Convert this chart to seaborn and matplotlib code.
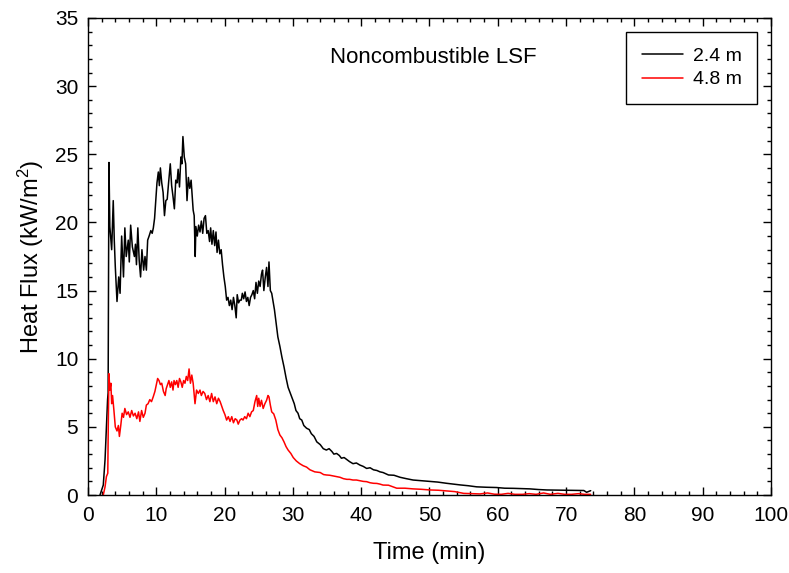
import numpy as np
import pandas as pd
import seaborn as sns
import matplotlib.pyplot as plt
from matplotlib.ticker import MultipleLocator

# heat flux at 2.4 m (black)
t_24 = [1.76, 2.24, 2.5, 2.7, 2.87, 2.95, 3.07, 3.2, 3.47, 3.7, 3.85, 4.0, 4.25, 4.5, 4.7,
        4.93, 5.2, 5.4, 5.6, 5.9, 6.05, 6.25, 6.5, 6.8, 6.95, 7.1, 7.3, 7.5, 7.7, 7.9,
        8.15, 8.35, 8.55, 8.74, 8.95, 9.2, 9.4, 9.57, 9.75, 9.9, 10.1, 10.3, 10.45, 10.6, 10.8,
        11.0, 11.2, 11.4, 11.6, 11.8, 12.05, 12.25, 12.45, 12.65, 12.85, 13.03, 13.2, 13.4, 13.6, 13.75,
        13.9, 14.1, 14.3, 14.5, 14.7, 14.9, 15.1, 15.4, 15.55, 15.7, 15.8, 16.0, 16.2, 16.4, 16.6,
        16.8, 17.0, 17.2, 17.4, 17.6, 17.8, 17.96, 18.15, 18.35, 18.55, 18.74, 18.9, 19.1, 19.3, 19.5,
        19.7, 19.9, 20.1, 20.3, 20.5, 20.7, 20.9, 21.1, 21.3, 21.5, 21.7, 21.85, 22.05, 22.25, 22.45,
        22.6, 22.8, 23.0, 23.2, 23.4, 23.6, 23.8, 24.0, 24.2, 24.4, 24.6, 24.8, 25.0, 25.2, 25.4,
        25.56, 25.75, 25.96, 26.15, 26.35, 26.5, 26.7, 26.9, 27.1, 27.3, 27.5, 27.8, 28.1, 28.4, 28.7,
        29.0, 29.3, 29.6, 29.9, 30.2, 30.45, 30.75, 31.0, 31.3, 31.6, 32.0, 32.4, 32.7, 33.1, 33.5,
        34.0, 34.45, 34.9, 35.3, 35.7, 36.0, 36.4, 36.8, 37.1, 37.5, 37.9, 38.3, 38.8, 39.3, 39.8,
        40.3, 40.8, 41.3, 41.8, 42.3, 42.75, 43.2, 44.0, 44.8, 45.7, 46.6, 47.6, 48.8, 50.0, 51.2,
        52.5, 53.5, 54.5, 55.7, 56.9, 58.3, 59.8, 61.0, 62.3, 63.5, 64.7, 66.0, 67.2, 68.6, 70.1,
        71.5, 72.6, 73.0, 73.6]
q_24 = [0.0, 0.73, 2.6, 5.0, 7.0, 7.5, 24.4, 19.7, 18.0, 21.6, 18.7, 16.75, 14.2, 16.0, 14.8,
        19.0, 16.0, 19.6, 17.5, 18.7, 17.1, 19.8, 18.2, 17.5, 18.4, 16.9, 19.6, 17.2, 16.0, 18.0,
        16.5, 17.5, 16.5, 18.7, 19.0, 19.4, 19.2, 19.6, 20.3, 21.4, 22.9, 23.7, 22.7, 24.0, 22.9,
        22.2, 20.5, 21.6, 21.7, 22.9, 24.3, 22.7, 21.9, 21.0, 23.1, 22.9, 23.9, 22.6, 24.8, 24.3,
        26.3, 24.8, 24.3, 21.6, 23.3, 22.5, 23.1, 20.9, 20.5, 17.5, 19.7, 19.0, 19.8, 19.3, 20.1,
        19.2, 20.3, 20.5, 19.2, 19.4, 18.6, 19.6, 18.4, 19.4, 18.3, 19.3, 17.8, 18.7, 17.7, 18.0,
        16.9, 16.0, 15.3, 14.3, 14.5, 13.9, 14.3, 13.6, 14.5, 13.9, 13.0, 14.7, 14.1, 14.3, 14.3,
        14.8, 14.4, 14.9, 14.2, 14.5, 13.9, 14.5, 14.7, 15.0, 14.4, 15.6, 14.8, 15.7, 15.3, 16.2,
        16.5, 15.0, 16.0, 16.7, 15.3, 17.1, 15.0, 14.8, 14.2, 13.6, 12.8, 11.6, 10.9, 10.1, 9.4,
        8.6, 7.9, 7.5, 7.1, 6.7, 6.2, 6.0, 5.6, 5.5, 5.1, 4.9, 4.8, 4.5, 4.3, 3.9,
        3.7, 3.4, 3.3, 3.4, 3.2, 3.0, 3.05, 2.9, 2.7, 2.75, 2.6, 2.45, 2.3, 2.35, 2.2,
        2.1, 1.95, 2.0, 1.85, 1.8, 1.7, 1.65, 1.47, 1.45, 1.3, 1.2, 1.1, 1.05, 1.0, 0.95,
        0.86, 0.8, 0.74, 0.68, 0.6, 0.57, 0.55, 0.5, 0.49, 0.47, 0.45, 0.4, 0.37, 0.36, 0.35,
        0.34, 0.33, 0.2, 0.32]

# heat flux at 4.8 m (red)
t_48 = [2.24, 2.5, 2.7, 2.9, 2.97, 3.07, 3.2, 3.35, 3.47, 3.6, 3.8, 4.0, 4.25, 4.45, 4.6,
        4.8, 5.0, 5.2, 5.4, 5.65, 5.9, 6.15, 6.4, 6.65, 6.9, 7.15, 7.4, 7.6, 7.85, 8.1,
        8.35, 8.55, 8.8, 9.05, 9.3, 9.55, 9.8, 10.05, 10.2, 10.4, 10.6, 10.8, 11.05, 11.3, 11.45,
        11.65, 11.85, 12.05, 12.25, 12.45, 12.6, 12.8, 13.0, 13.2, 13.4, 13.6, 13.8, 14.0, 14.2, 14.4,
        14.6, 14.8, 15.0, 15.2, 15.4, 15.67, 15.9, 16.15, 16.4, 16.6, 16.85, 17.1, 17.35, 17.6, 17.85,
        18.1, 18.35, 18.6, 18.85, 19.1, 19.35, 19.6, 19.8, 20.05, 20.3, 20.55, 20.8, 21.05, 21.3, 21.55,
        21.8, 22.0, 22.25, 22.5, 22.7, 22.95, 23.2, 23.45, 23.7, 23.95, 24.2, 24.45, 24.7, 24.85, 25.0,
        25.2, 25.4, 25.65, 25.9, 26.15, 26.35, 26.5, 26.7, 26.9, 27.2, 27.5, 27.8, 28.1, 28.4, 28.7,
        29.0, 29.3, 29.7, 30.05, 30.5, 31.0, 31.5, 32.0, 32.5, 33.2, 34.0, 34.5, 34.9, 35.4, 35.9,
        36.4, 36.9, 37.4, 37.9, 38.3, 38.8, 39.3, 39.8, 40.3, 40.8, 41.3, 41.8, 42.3, 42.75, 43.2,
        44.0, 45.2, 46.4, 47.6, 48.8, 50.1, 51.3, 52.5, 53.7, 55.0, 56.2, 57.4, 58.5, 59.5, 60.5,
        61.5, 62.5, 63.6, 64.6, 65.6, 66.7, 67.7, 68.8, 69.8, 70.8, 71.8, 72.7, 73.6]
q_48 = [0.0, 0.6, 1.35, 1.6, 5.0, 8.9, 7.7, 8.2, 6.7, 7.3, 6.2, 5.0, 4.7, 5.1, 4.3,
        5.1, 6.0, 5.7, 6.35, 5.9, 6.1, 5.7, 6.2, 5.8, 6.0, 5.6, 6.1, 5.4, 6.2, 5.7,
        6.0, 6.6, 6.7, 7.0, 6.85, 7.2, 7.6, 8.2, 8.55, 8.4, 8.1, 8.2, 7.6, 7.3, 7.8,
        8.1, 8.4, 7.9, 8.3, 7.7, 8.4, 8.1, 8.4, 7.9, 8.55, 8.3, 7.9, 8.4, 8.2, 8.7,
        8.4, 9.25, 8.2, 8.8, 8.2, 6.7, 7.7, 7.45, 7.7, 7.3, 7.6, 7.45, 7.0, 7.3, 6.85,
        7.45, 6.85, 7.2, 6.7, 7.1, 6.85, 6.5, 6.2, 5.9, 5.5, 5.75, 5.4, 5.75, 5.3, 5.6,
        5.5, 5.2, 5.5, 5.6, 5.5, 5.75, 5.6, 6.0, 5.75, 6.1, 6.2, 6.85, 7.3, 6.5, 7.1,
        6.5, 6.95, 6.35, 6.7, 6.95, 7.3, 7.2, 6.6, 6.1, 5.95, 5.5, 4.8, 4.4, 4.2, 3.9,
        3.55, 3.3, 3.05, 2.75, 2.5, 2.3, 2.15, 2.05, 1.85, 1.7, 1.65, 1.5, 1.47, 1.45, 1.4,
        1.35, 1.3, 1.2, 1.15, 1.15, 1.1, 1.1, 1.05, 1.0, 0.98, 0.9, 0.86, 0.85, 0.8, 0.73,
        0.72, 0.5, 0.5, 0.45, 0.42, 0.37, 0.35, 0.3, 0.25, 0.12, 0.1, 0.08, 0.15, 0.06, 0.05,
        0.12, 0.05, 0.05, 0.1, 0.05, 0.15, 0.05, 0.12, 0.05, 0.05, 0.1, 0.05, 0.05]

labels = ['2.4 m', '4.8 m']
colors = ['black', 'red']

df = pd.concat([
    pd.DataFrame({'time': t_24, 'flux': q_24, 'height': labels[0]}),
    pd.DataFrame({'time': t_48, 'flux': q_48, 'height': labels[1]}),
])

sns.set_style('ticks')
plt.rcParams['font.family'] = ['Liberation Sans', 'DejaVu Sans']
plt.rcParams['mathtext.default'] = 'regular'
for k in ['text.color', 'axes.labelcolor', 'xtick.color', 'ytick.color', 'axes.edgecolor']:
    plt.rcParams[k] = 'black'

fig = plt.figure(figsize=(7.89, 5.73), dpi=100)
ax = fig.add_axes([0.1115, 0.1361, 0.8657, 0.8325])

sns.lineplot(
    data = df,
    x = 'time',
    y = 'flux',
    hue = 'height',
    palette = dict(zip(labels, colors)),
    estimator = None,
    sort = False,
    linewidth = 1.1,
    ax = ax
)

ax.set_xlim(0, 100)
ax.set_ylim(0, 35)
ax.xaxis.set_major_locator(MultipleLocator(10))
ax.xaxis.set_minor_locator(MultipleLocator(2))
ax.yaxis.set_major_locator(MultipleLocator(5))
ax.yaxis.set_minor_locator(MultipleLocator(1))
ax.tick_params(which='both', direction='in', top=True, right=True, labelsize=15, width=1)
ax.tick_params(which='major', length=6)
ax.tick_params(which='minor', length=3)
ax.tick_params(axis='x', which='major', pad=8)
ax.tick_params(axis='y', which='major', pad=7)
for s in ax.spines.values():
    s.set_linewidth(1)

ax.set_xlabel('Time (min)', fontsize=17, va='center')
ax.set_ylabel('Heat Flux (kW/m$^2$)', fontsize=17, va='center')
ax.xaxis.set_label_coords(0.5, -0.1216)
ax.yaxis.set_label_coords(-0.0835, 0.5)
ax.text(50.6, 32.1, 'Noncombustible LSF', fontsize=16, ha='center', va='center')

leg = ax.legend(loc='upper right', bbox_to_anchor=(0.9795, 0.971), borderaxespad=0,
                fontsize=14, frameon=True, fancybox=False, edgecolor='black', framealpha=1,
                handlelength=2.1, borderpad=0.8, labelspacing=0.3, handletextpad=0.5)
leg.get_frame().set_linewidth(1)
leg.set_title(None)

fig.savefig('out.png', dpi=100)
